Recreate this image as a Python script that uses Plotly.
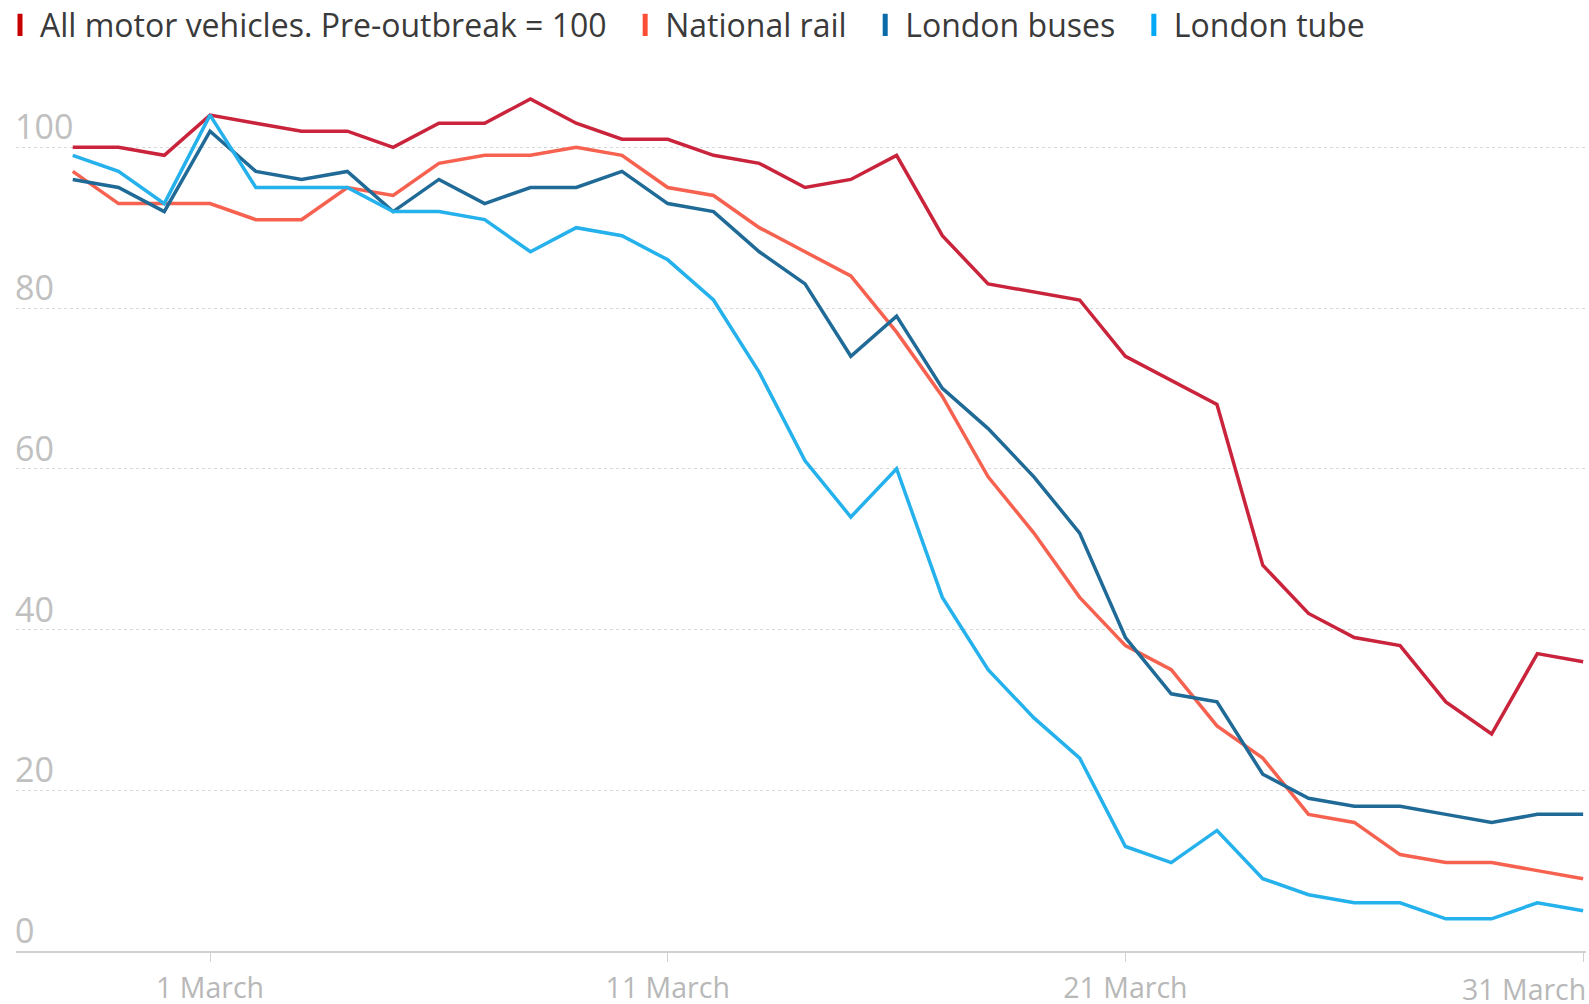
import pandas as pd
import plotly.graph_objects as go

dates = pd.date_range("2020-02-27", "2020-03-31", freq="D")

motor_vehicles = [100, 100, 99, 104, 103, 102, 102, 100, 103, 103, 106, 103, 101, 101,
                  99, 98, 95, 96, 99, 89, 83, 82, 81, 74, 71, 68, 48, 42, 39, 38, 31, 27, 37, 36]
national_rail = [97, 93, 93, 93, 91, 91, 95, 94, 98, 99, 99, 100, 99, 95,
                 94, 90, 87, 84, 77, 69, 59, 52, 44, 38, 35, 28, 24, 17, 16, 12, 11, 11, 10, 9]
london_buses = [96, 95, 92, 102, 97, 96, 97, 92, 96, 93, 95, 95, 97, 93,
                92, 87, 83, 74, 79, 70, 65, 59, 52, 39, 32, 31, 22, 19, 18, 18, 17, 16, 17, 17]
london_tube = [99, 97, 93, 104, 95, 95, 95, 92, 92, 91, 87, 90, 89, 86,
               81, 72, 61, 54, 60, 44, 35, 29, 24, 13, 11, 15, 9, 7, 6, 6, 4, 4, 6, 5]

series_names = ["All motor vehicles. Pre-outbreak = 100", "National rail",
                "London buses", "London tube"]
series_values = [motor_vehicles, national_rail, london_buses, london_tube]
line_colors = ["#c9243b", "#f6624f", "#1f6a96", "#24b1ec"]
legend_colors = ["#c70000", "#ff4e36", "#0b6aa8", "#00a8f5"]

y_ticks = [0, 20, 40, 60, 80, 100]
x_ticks = ["2020-03-01", "2020-03-11", "2020-03-21", "2020-03-31"]
x_tick_labels = ["1 March", "11 March", "21 March", "31 March"]

FONT = "Open Sans, Liberation Sans, sans-serif"

fig = go.Figure()
for name, vals, lc in zip(series_names, series_values, line_colors):
    fig.add_trace(go.Scatter(x=dates, y=vals, mode="lines", name=name,
                             line=dict(color=lc, width=3.5), showlegend=False))
for name, mc in zip(series_names, legend_colors):
    fig.add_trace(go.Scatter(x=[None], y=[None], mode="markers",
                             name=name + "\u00a0\u2009",
                             marker=dict(symbol="line-ns", size=24,
                                         line=dict(color=mc, width=10))))

fig.update_layout(
    width=1589, height=1004,
    margin=dict(l=16, r=3, t=83, b=53, autoexpand=False),
    paper_bgcolor="white", plot_bgcolor="white",
    font=dict(family=FONT, color="#333333", size=30),
    legend=dict(orientation="h", xref="container", yref="container",
                x=0.0, y=0.975, xanchor="left", yanchor="middle",
                font=dict(family=FONT, size=32, color="#3a3a3a"),
                itemwidth=30, tracegroupgap=0, bgcolor="rgba(0,0,0,0)"),
    showlegend=True,
)
fig.update_xaxes(
    range=["2020-02-25 18:15", "2020-03-31 01:30"],
    tickvals=x_ticks, ticktext=x_tick_labels[:-1] + [""],
    showgrid=False, showline=True, linecolor="#d0d0d0", linewidth=2,
    ticks="outside", ticklen=9, tickcolor="#d0d0d0", tickwidth=1,
    tickfont=dict(family=FONT, size=28.5, color="#b8b8b8"),
    ticklabelstandoff=2,
    zeroline=False, automargin=False,
)
fig.update_yaxes(
    range=[0, 108], tickvals=y_ticks,
    showgrid=True, gridcolor="#d8d8d8", griddash="dot", gridwidth=1,
    ticklabelposition="inside top", ticks="", ticklabelshift=4,
    ticklabelstandoff=-4, ticklabeloverflow="allow",
    tickfont=dict(family=FONT, size=34, color="#c0c0c0"),
    zeroline=False, showline=False, automargin=False,
)
fig.add_annotation(
    x=x_ticks[-1], y=0, xref="x", yref="paper",
    text=x_tick_labels[-1], showarrow=False,
    xanchor="right", yanchor="middle", xshift=5, yshift=-38,
    font=dict(family=FONT, size=28.5, color="#b8b8b8"),
)

fig.write_html("out.html",
               config={"displayModeBar": False},
               post_script="document.body.style.margin='0';"
                           "document.body.style.overflow='hidden';")
